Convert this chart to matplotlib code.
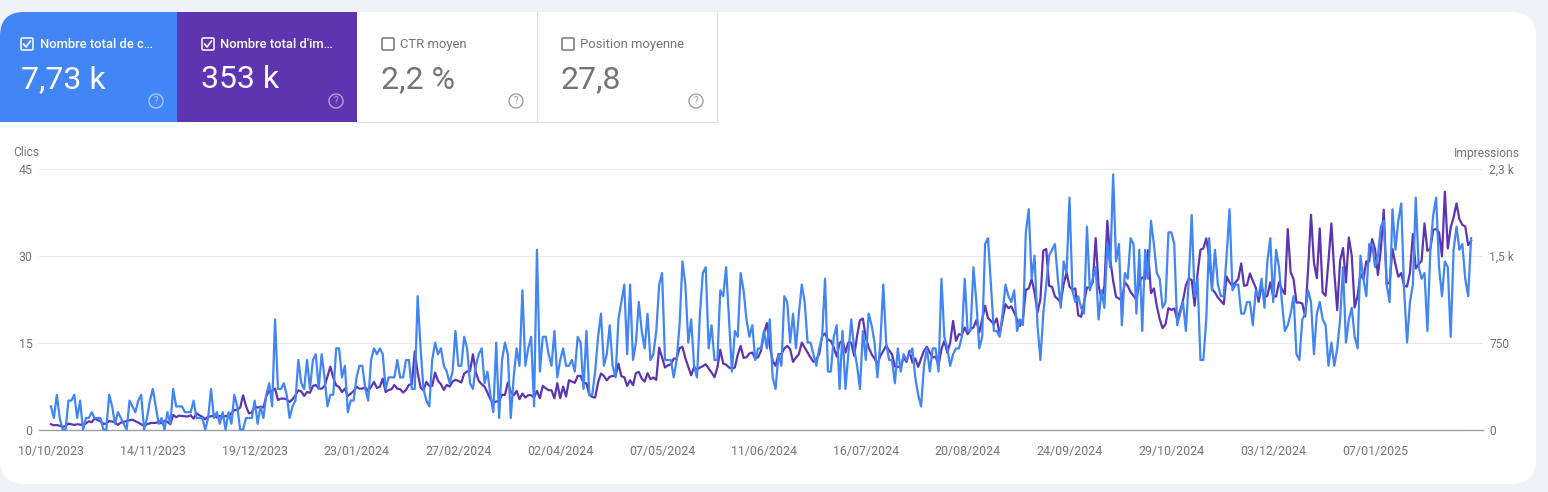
import pandas as pd
import matplotlib
matplotlib.use('Agg')
import matplotlib.pyplot as plt
from matplotlib.patches import FancyBboxPatch, Rectangle, Circle

plt.rcParams['font.family'] = ['Roboto', 'DejaVu Sans']

# daily clicks, one row = 10 days
clicks = [
    4, 2, 6, 2, 0, 0, 5, 5, 6, 2,
    5, 0, 2, 2, 3, 2, 2, 2, 0, 0,
    6, 4, 1, 3, 2, 1, 0, 5, 4, 3,
    5, 6, 0, 2, 5, 7, 4, 1, 2, 0,
    3, 1, 7, 4, 4, 4, 3, 3, 3, 5,
    2, 2, 2, 0, 2, 7, 2, 3, 1, 3,
    0, 3, 1, 6, 4, 0, 0, 2, 2, 2,
    5, 1, 4, 2, 6, 8, 4, 19, 7, 7,
    8, 6, 2, 4, 5, 12, 8, 7, 12, 7,
    12, 13, 7, 13, 9, 4, 6, 6, 14, 14,
    9, 11, 3, 5, 5, 9, 11, 11, 7, 5,
    12, 14, 13, 14, 13, 7, 9, 9, 9, 12,
    9, 9, 12, 12, 7, 7, 23, 14, 7, 5,
    4, 12, 15, 13, 14, 11, 10, 8, 10, 17,
    11, 11, 16, 14, 8, 7, 11, 13, 14, 8,
    10, 6, 3, 15, 2, 12, 15, 13, 2, 9,
    14, 11, 24, 11, 14, 16, 4, 31, 10, 16,
    16, 13, 11, 17, 9, 12, 14, 11, 11, 12,
    10, 16, 15, 7, 17, 6, 6, 10, 16, 20,
    11, 13, 18, 11, 9, 19, 22, 25, 13, 25,
    12, 15, 22, 17, 14, 20, 12, 13, 17, 25,
    27, 12, 12, 12, 9, 12, 18, 29, 25, 15,
    19, 11, 9, 20, 27, 28, 14, 18, 12, 12,
    24, 23, 28, 19, 10, 17, 16, 27, 24, 19,
    16, 18, 12, 14, 14, 17, 14, 19, 9, 7,
    13, 11, 23, 22, 15, 20, 14, 20, 25, 22,
    15, 15, 13, 11, 14, 16, 26, 10, 10, 16,
    18, 7, 17, 7, 13, 19, 14, 11, 7, 17,
    12, 20, 18, 15, 9, 15, 25, 15, 12, 12,
    8, 14, 10, 13, 12, 13, 14, 9, 6, 4,
    11, 14, 10, 14, 14, 10, 26, 16, 14, 11,
    13, 14, 14, 16, 26, 17, 17, 28, 22, 14,
    16, 32, 33, 25, 17, 17, 16, 20, 25, 23,
    22, 24, 17, 19, 18, 34, 38, 26, 30, 18,
    12, 20, 25, 30, 31, 32, 26, 21, 29, 27,
    40, 24, 22, 23, 21, 20, 35, 24, 26, 28,
    19, 24, 21, 32, 28, 44, 29, 32, 18, 27,
    26, 33, 32, 20, 31, 17, 31, 26, 36, 32,
    27, 26, 21, 22, 34, 34, 32, 18, 20, 22,
    17, 26, 37, 23, 26, 12, 12, 19, 33, 24,
    31, 25, 23, 23, 30, 38, 24, 25, 25, 20,
    20, 22, 22, 18, 24, 23, 26, 21, 29, 33,
    22, 31, 28, 22, 17, 18, 20, 23, 13, 12,
    19, 20, 24, 22, 13, 20, 22, 19, 18, 11,
    15, 11, 14, 19, 28, 15, 19, 21, 16, 14,
    30, 26, 23, 32, 32, 28, 30, 35, 36, 25,
    22, 38, 31, 36, 39, 24, 15, 22, 25, 40,
    28, 26, 27, 17, 31, 37, 40, 28, 23, 29,
    28, 16, 31, 35, 31, 32, 26, 23, 33,
]

# daily impressions, same rows
impressions = [
    47, 38, 41, 32, 24, 32, 53, 47, 41, 47,
    44, 38, 56, 73, 65, 97, 85, 73, 50, 53,
    76, 70, 65, 41, 62, 68, 76, 82, 88, 73,
    62, 47, 32, 47, 56, 59, 59, 68, 56, 76,
    68, 47, 129, 109, 123, 120, 117, 115, 126, 97,
    144, 126, 112, 91, 115, 117, 123, 106, 120, 109,
    120, 120, 144, 173, 173, 194, 302, 208, 144, 150,
    208, 194, 202, 194, 297, 340, 340, 361, 261, 273,
    273, 267, 243, 267, 302, 346, 337, 297, 331, 325,
    384, 393, 364, 360, 384, 467, 555, 458, 390, 375,
    331, 361, 297, 317, 340, 378, 361, 361, 375, 340,
    378, 420, 367, 378, 449, 331, 349, 355, 393, 361,
    356, 326, 350, 394, 400, 688, 503, 370, 347, 420,
    385, 385, 503, 429, 400, 350, 394, 379, 423, 438,
    429, 415, 494, 512, 517, 664, 503, 429, 400, 379,
    326, 268, 238, 247, 256, 306, 306, 415, 332, 303,
    341, 268, 318, 282, 303, 303, 282, 341, 276, 385,
    365, 347, 347, 276, 409, 276, 379, 291, 435, 423,
    412, 473, 473, 409, 409, 306, 288, 282, 415, 494,
    473, 435, 465, 473, 473, 582, 470, 462, 385, 435,
    391, 497, 509, 450, 423, 497, 444, 459, 438, 723,
    635, 547, 567, 573, 626, 626, 717, 729, 629, 553,
    479, 553, 526, 547, 559, 576, 538, 503, 462, 547,
    703, 582, 573, 547, 538, 547, 659, 738, 632, 638,
    670, 679, 626, 638, 694, 847, 938, 738, 606, 562,
    664, 664, 714, 738, 709, 597, 635, 664, 767, 723,
    679, 635, 597, 620, 664, 826, 847, 791, 782, 723,
    644, 761, 788, 679, 767, 767, 650, 826, 964, 979,
    811, 723, 664, 626, 576, 650, 694, 738, 700, 664,
    556, 553, 556, 635, 597, 694, 591, 626, 553, 626,
    694, 729, 679, 635, 644, 567, 709, 782, 679, 767,
    958, 782, 841, 835, 900, 841, 884, 900, 964, 856,
    973, 1091, 982, 958, 929, 979, 841, 973, 1105, 1070,
    1085, 1032, 973, 914, 973, 1232, 1244, 1326, 1208, 1032,
    1150, 1576, 1591, 1267, 1258, 1173, 1150, 1120, 1282, 1385,
    1261, 1232, 1244, 1008, 994, 1120, 1252, 1252, 1297, 1688,
    1267, 1150, 1267, 1840, 1502, 1311, 1170, 1155, 1135, 1297,
    1267, 1214, 1179, 1144, 1297, 1341, 1326, 1582, 1202, 1244,
    1091, 973, 894, 929, 1070, 1055, 1067, 973, 1047, 1135,
    1273, 1332, 1317, 1091, 1370, 1585, 1596, 1685, 1517, 1238,
    1208, 1164, 1135, 1105, 1349, 1297, 1267, 1297, 1326, 1464,
    1267, 1273, 1376, 1311, 1252, 1126, 1267, 1164, 1179, 1297,
    1173, 1173, 1297, 1238, 1193, 1767, 1385, 1326, 1120, 1120,
    1111, 997, 1414, 1893, 1473, 1335, 1773, 1208, 1179, 1488,
    1817, 1385, 1053, 1488, 1600, 1297, 1693, 1532, 1076, 1179,
    1370, 1326, 1482, 1482, 1679, 1591, 1362, 1591, 1938, 1282,
    1297, 1591, 1458, 1347, 1379, 1267, 1261, 1385, 1723, 1420,
    1458, 1488, 1817, 1576, 1591, 1761, 1767, 1738, 1526, 2096,
    1596, 1782, 1870, 1993, 1855, 1805, 1790, 1626, 1664,
]

tick_dates = ['2023-10-10', '2023-11-14', '2023-12-19', '2024-01-23', '2024-02-27',
              '2024-04-02', '2024-05-07', '2024-06-11', '2024-07-16', '2024-08-20',
              '2024-09-24', '2024-10-29', '2024-12-03', '2025-01-07']
tick_labels = ['10/10/2023', '14/11/2023', '19/12/2023', '23/01/2024', '27/02/2024',
               '02/04/2024', '07/05/2024', '11/06/2024', '16/07/2024', '20/08/2024',
               '24/09/2024', '29/10/2024', '03/12/2024', '07/01/2025']
clicks_ticks = [0, 15, 30, 45]
impressions_ticks = [0, 767, 1533, 2300]
impressions_labels = ['0', '750', '1,5 k', '2,3 k']

# metric tiles: label, value, selected, fill colour
tile_names = ['Nombre total de c…', "Nombre total d'im…", 'CTR moyen', 'Position moyenne']
tile_values = ['7,73 k', '353 k', '2,2 %', '27,8']
tile_selected = [True, True, False, False]
tile_colors = ['#4285f4', '#5e35b1', '#ffffff', '#ffffff']

W, H = 1548, 492
BLUE = '#4285f4'
PURPLE = '#5e35b1'
GREY = '#757575'


def px(size):
    # font size in points from pixels at dpi 100
    return size * 0.72


fig = plt.figure(figsize=(W / 100, H / 100), dpi=100, facecolor='#eff3f8')

# page layer in pixel coordinates
bg = fig.add_axes([0, 0, 1, 1])
bg.set_xlim(0, W)
bg.set_ylim(H, 0)
bg.axis('off')

card = FancyBboxPatch((0, 12), 1536, 472, boxstyle='round,pad=0,rounding_size=24',
                      fc='white', ec='none')
bg.add_patch(card)

tile_left = [0, 177, 357, 537]
tile_right = [177, 357, 537, 717]
for i in range(4):
    x0, x1 = tile_left[i], tile_right[i]
    sel = tile_selected[i]
    r = Rectangle((x0, 12), x1 - x0, 110, fc=tile_colors[i], ec='none')
    bg.add_patch(r)
    r.set_clip_path(card)
    if not sel:
        # only the right and bottom edges are drawn on the white tiles
        bg.plot([x1 - 0.5, x1 - 0.5, x0], [12, 121.5, 121.5], color='#e0e0e0', lw=0.8)
    fg = 'white' if sel else GREY
    # checkbox
    bx = x0 + 21 if i == 0 else x0 + 25
    bg.add_patch(FancyBboxPatch((bx, 38), 12, 12, boxstyle='round,pad=0,rounding_size=1.5',
                                fc='none', ec=fg, lw=1.1))
    if sel:
        bg.plot([bx + 2.5, bx + 5, bx + 9.5], [44, 47, 41], color='white', lw=1.2,
                solid_capstyle='round')
    label_x = bx + 19 if i == 0 else bx + 18
    value_x = bx if i == 0 else bx - 1
    bg.text(label_x, 44.5, tile_names[i], color=fg, fontsize=px(13),
            weight='medium' if sel else 'normal', va='center', ha='left')
    bg.text(value_x, 80, tile_values[i], color=fg, fontsize=px(32), va='center', ha='left')
    # help icon
    cx = x1 - 21
    icon = '#ffffff' if sel else '#9e9e9e'
    bg.add_patch(Circle((cx, 101), 7, fc='none', ec=icon, lw=1.0, alpha=0.55 if sel else 1))
    bg.text(cx, 101.5, '?', color=icon, fontsize=px(10), ha='center', va='center',
            alpha=0.55 if sel else 1)

bg.text(26, 153, 'Clics', color=GREY, fontsize=px(12), ha='center', va='center')
bg.text(1487, 153, 'Impressions', color=GREY, fontsize=px(12), ha='center', va='center')

# chart layer
dates = pd.date_range('2023-10-10', periods=len(clicks), freq='D')
ax_l, ax_r, ax_t, ax_b = 39, 1483, 168.6, 429.6
ax2 = fig.add_axes([ax_l / W, 1 - ax_b / H, (ax_r - ax_l) / W, (ax_b - ax_t) / H])
ax = ax2.twinx()
ax2.patch.set_visible(False)
ax.patch.set_visible(False)
ax2.set_zorder(2)
ax.set_zorder(3)

ax2.plot(dates, impressions, color=PURPLE, lw=1.6, solid_joinstyle='round', clip_on=False)
ax.plot(dates, clicks, color=BLUE, lw=1.6, solid_joinstyle='round', clip_on=False)

start = dates[0]
ax2.set_xlim(start - pd.Timedelta(days=4.12), start + pd.Timedelta(days=492.1))
ax2.set_xticks(pd.to_datetime(tick_dates))
ax2.set_xticklabels(tick_labels, color=GREY, fontsize=px(12.4))
ax2.tick_params(axis='x', length=0, pad=11)

ax2.set_ylim(0, 2300)
ax.set_ylim(0, 45)
# ax2 sits on the left side, so put its labels on the right and the clicks on the left
ax2.yaxis.tick_right()
ax.yaxis.tick_left()
ax2.set_yticks(impressions_ticks)
ax2.set_yticklabels(impressions_labels, color=GREY, fontsize=px(12))
ax.set_yticks(clicks_ticks)
ax.set_yticklabels([str(v) for v in clicks_ticks], color=GREY, fontsize=px(12.4))
ax2.tick_params(axis='y', length=0, pad=4.5)
ax.tick_params(axis='y', length=0, pad=4.5)

ax2.grid(axis='y', color='#e8eaed', lw=0.8)
ax2.set_axisbelow(True)
for a in (ax, ax2):
    for s in a.spines.values():
        s.set_visible(False)
ax2.spines['bottom'].set_visible(True)
ax2.spines['bottom'].set_color('#9aa0a6')
ax2.spines['bottom'].set_linewidth(1)

fig.savefig('out.png', dpi=100)
